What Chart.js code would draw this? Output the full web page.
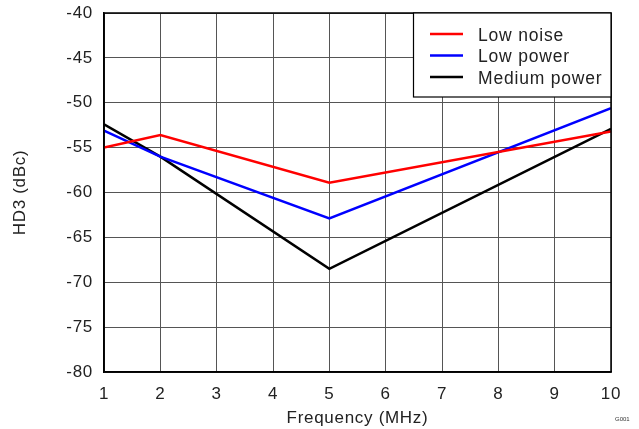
<!DOCTYPE html>
<html>
<head>
<meta charset="utf-8">
<script src="https://cdn.jsdelivr.net/npm/chart.js@4"></script>
<style>
  html, body { margin: 0; padding: 0; background: #fff; }
  #wrap { position: relative; width: 639px; height: 429px; }
</style>
</head>
<body>
<div id="wrap"><canvas id="hd3Chart" width="639" height="429"></canvas></div>
<script>
// 데이터
const freqMHz = [1, 2, 5, 10];
const lowNoise = [-55.0, -53.6, -58.9, -53.2];
const lowPower = [-53.1, -56.0, -62.9, -50.6];
const mediumPower = [-52.4, -56.0, -68.5, -52.9];
const seriesNames = ['Low noise', 'Low power', 'Medium power'];
const seriesColors = ['#ff0000', '#0000ff', '#000000'];
const xTicks = [1, 2, 3, 4, 5, 6, 7, 8, 9, 10];
const yTicks = [-80, -75, -70, -65, -60, -55, -50, -45, -40];

const FONT = '"Liberation Sans", Arial, sans-serif';
const SPACING = '0.7px';

function toPoints(ys) {
    return freqMHz.map((x, i) => ({ x: x, y: ys[i] }));
}

// 글자 간격 (캔버스 리셋 후 다시 설정)
const spacingPlugin = {
    id: 'spacing',
    beforeLayout(chart) { chart.ctx.letterSpacing = SPACING; },
    beforeDraw(chart) { chart.ctx.letterSpacing = SPACING; }
};

// 프레임 + 범례 박스 그리기
const framePlugin = {
    id: 'frame',
    afterDatasetsDraw(chart) {
        const ctx = chart.ctx;
        const a = chart.chartArea;
        ctx.save();
        ctx.strokeStyle = '#000';
        ctx.lineWidth = 1.5;
        ctx.strokeRect(a.left, a.top, a.right - a.left, a.bottom - a.top);

        // legend box (inside plot, top right)
        const bx = 413.5, by = a.top, bw = a.right - 413.5, bh = 84;
        ctx.fillStyle = '#fff';
        ctx.fillRect(bx, by, bw, bh);
        ctx.lineWidth = 1.2;
        ctx.strokeRect(bx, by, bw, bh);
        ctx.font = '17.5px ' + FONT;
        ctx.letterSpacing = '0.8px';
        ctx.textBaseline = 'middle';
        ctx.textAlign = 'left';
        chart.data.datasets.forEach((ds, i) => {
            const y = by + 21 + i * 21.5;
            ctx.strokeStyle = ds.borderColor;
            ctx.lineWidth = 2.5;
            ctx.beginPath();
            ctx.moveTo(430, y);
            ctx.lineTo(463, y);
            ctx.stroke();
            ctx.fillStyle = '#222';
            ctx.fillText(ds.label, 478, y + 2);
        });

        ctx.font = '6px ' + FONT;
        ctx.letterSpacing = '0px';
        ctx.fillStyle = '#333';
        ctx.fillText('G001', 615, 419);
        ctx.restore();
    }
};

new Chart(document.getElementById('hd3Chart').getContext('2d'), {
    type: 'line',
    data: {
        datasets: [lowNoise, lowPower, mediumPower].map((ys, i) => ({
            label: seriesNames[i],
            data: toPoints(ys),
            borderColor: seriesColors[i],
            backgroundColor: seriesColors[i],
            borderWidth: 2.5,
            pointRadius: 0,
            tension: 0,
            fill: false
        }))
    },
    options: {
        responsive: false,
        animation: false,
        layout: { padding: { top: 13, right: 28, left: 0, bottom: 0 } },
        plugins: {
            legend: { display: false },
            tooltip: { enabled: false }
        },
        scales: {
            x: {
                type: 'linear',
                min: 1,
                max: 10,
                afterFit: s => { s.height = 57; s.paddingLeft = 0; s.paddingRight = 0; },
                afterBuildTicks: s => { s.ticks = xTicks.map(v => ({ value: v })); },
                grid: { color: '#555', lineWidth: 1, drawTicks: false },
                border: { color: '#000', width: 1.5 },
                ticks: {
                    color: '#222',
                    font: { family: FONT, size: 17 },
                    padding: 12,
                    maxRotation: 0
                },
                title: {
                    display: true,
                    text: 'Frequency (MHz)',
                    color: '#222',
                    font: { family: FONT, size: 17 },
                    padding: { top: 0, bottom: 0 }
                }
            },
            y: {
                min: -80,
                max: -40,
                afterFit: s => { s.width = 104; s.paddingTop = 0; s.paddingBottom = 0; },
                afterBuildTicks: s => { s.ticks = yTicks.map(v => ({ value: v })); },
                grid: { color: '#555', lineWidth: 1, drawTicks: false },
                border: { color: '#000', width: 1.5 },
                ticks: {
                    color: '#222',
                    font: { family: FONT, size: 17 },
                    padding: 11
                },
                title: {
                    display: true,
                    text: 'HD3 (dBc)',
                    color: '#222',
                    font: { family: FONT, size: 17 },
                    padding: { top: 10, bottom: 0 }
                }
            }
        }
    },
    plugins: [spacingPlugin, framePlugin]
});
</script>
</body>
</html>
